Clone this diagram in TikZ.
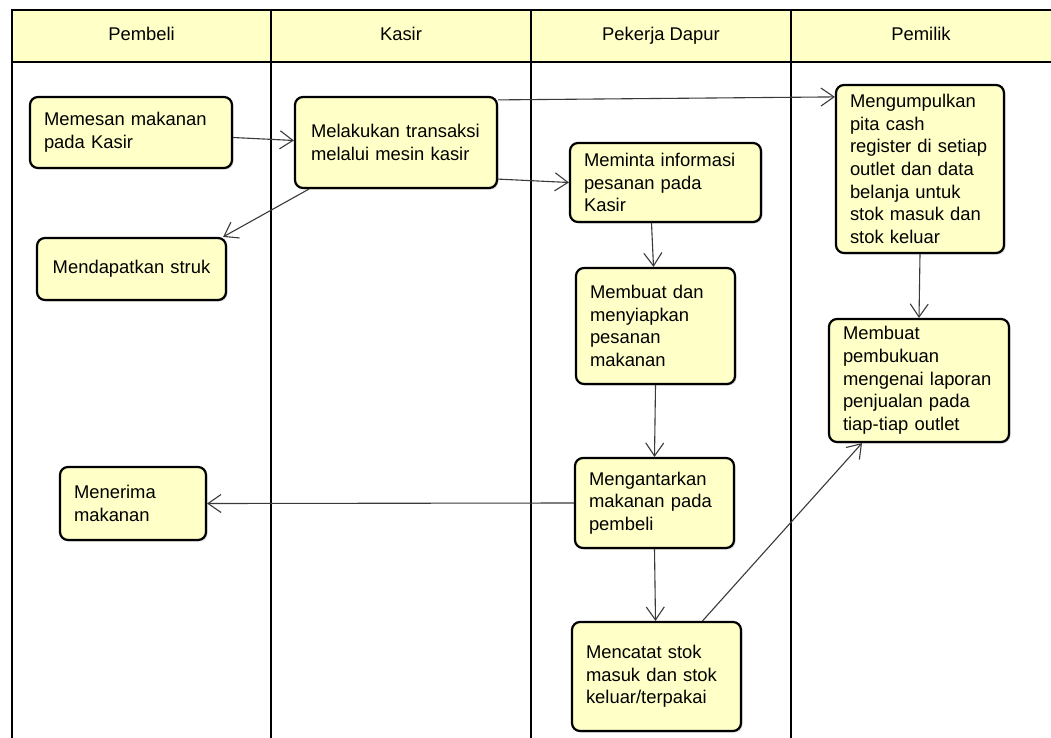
\documentclass[tikz,border=0pt]{standalone}
\usepackage{fontspec}
\setmainfont{Liberation Sans}
\usetikzlibrary{arrows.meta, shadows}
\definecolor{ActYellow}{HTML}{FFFFC8}
\definecolor{FlowGray}{HTML}{3A3A3A}

\begin{document}
\begin{tikzpicture} [x=1pt, y=-1pt,
			every node/.style={font=\fontsize{18.4}{22.7}\selectfont},
			lanehead/.style={inner sep=0pt,text height=13pt,text depth=4pt},
			laneline/.style={draw,line width=2.6pt},
			act/.style={draw,line width=2.2pt,rounded corners=8pt,fill=ActYellow,align=left,inner xsep=14pt,inner ysep=0pt,
				drop shadow={shadow xshift=1.5pt,shadow yshift=-1.5pt,fill=black!30}},
			flow/.style={draw,line width=1.1pt,FlowGray,-{Straight Barb[length=13pt,width=18pt]}}
		]
			\useasboundingbox (0,0) rectangle (1051,738);
			\clip (0,0) rectangle (1051,738);
			\fill[white] (0,0) rectangle (1051,738);
			% swimlanes
			\path[laneline,fill=ActYellow] (12,10) rectangle (1070,62);
			\path[laneline] (12,10) -- (12,750);
			\path[laneline] (271,10) -- (271,750);
			\path[laneline] (531,10) -- (531,750);
			\path[laneline] (791,10) -- (791,750);
			\node at (141.5,36) [lanehead] (hpembeli) {Pembeli};
			\node at (401,36) [lanehead] (hkasir) {Kasir};
			\node at (661,36) [lanehead] (hdapur) {Pekerja Dapur};
			\node at (921,36) [lanehead] (hpemilik) {Pemilik};
			% activities
			\node at (131,132.5) [act,text width=174pt,minimum height=71pt] (memesan) {Memesan makanan\\pada Kasir};
			\node at (396,142.5) [act,minimum height=91pt,inner xsep=16pt,text width=170pt] (transaksi) {Melakukan transaksi\\melalui mesin kasir};
			\node at (131.5,269) [act,text width=161pt,minimum height=62pt,align=center] (struk) {Mendapatkan struk};
			\node at (665.5,182.5) [act,text width=163pt,minimum height=79pt] (meminta) {Meminta informasi\\pesanan pada\\Kasir};
			\node at (655.5,326) [act,text width=131pt,minimum height=116pt] (membuat) {Membuat dan\\menyiapkan\\pesanan\\makanan};
			\node at (654.5,503) [act,text width=131pt,minimum height=90pt] (antar) {Mengantarkan\\makanan pada\\pembeli};
			\node at (656.5,676.5) [act,text width=141pt,minimum height=109pt] (catat) {Mencatat stok\\masuk dan stok\\keluar/terpakai};
			\node at (133,503.5) [act,text width=118pt,minimum height=73pt] (terima) {Menerima\\makanan};
			\node at (920,169) [act,text width=140pt,minimum height=168pt] (kumpul) {Mengumpulkan\\pita cash\\register di setiap\\outlet dan data\\belanja untuk\\stok masuk dan\\stok keluar};
			\node at (919,380.5) [act,text width=152pt,minimum height=123pt] (buku) {Membuat\\pembukuan\\mengenai laporan\\penjualan pada\\tiap-tiap outlet};
			% flows
			\path[flow] ([yshift=-5pt]memesan.east) -- ([yshift=2pt]transaksi.west);
			\path[flow] ([yshift=-4pt]transaksi.north east) -- ([yshift=-13pt]kumpul.north west);
			\path[flow] ([yshift=10pt]transaksi.south east) -- (meminta.west);
			\path[flow] ([xshift=15pt]transaksi.south west) -- ([xshift=-4pt]struk.north east);
			\path[flow] ([xshift=-14pt]meminta.south) -- ([xshift=-2pt]membuat.north);
			\path[flow] (membuat.south) -- (antar.north);
			\path[flow] (antar.west) -- (terima.east);
			\path[flow] (antar.south) -- ([xshift=-1pt]catat.north);
			\path[flow] ([xshift=46pt]catat.north) -- ([xshift=-57pt]buku.south);
			\path[flow] (kumpul.south) -- (buku.north);
		\end{tikzpicture}
\end{document}
